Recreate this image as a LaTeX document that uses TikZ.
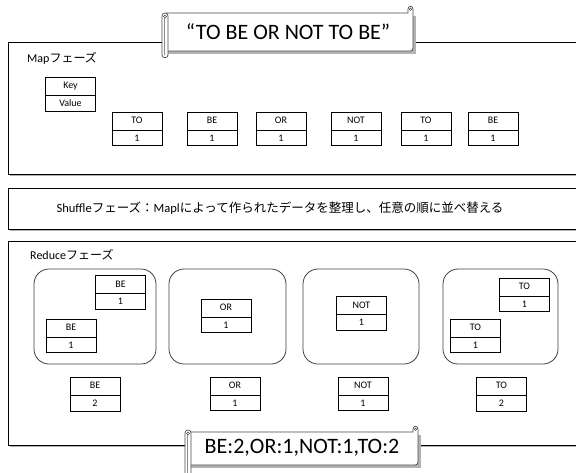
\documentclass[tikz,border=0pt]{standalone}
\usepackage{fontspec}
\setmainfont{Carlito}
\newfontfamily\jp{Noto Sans CJK JP}
\usetikzlibrary{shapes.multipart,shadows}
\tikzset{
  frame/.style={draw=black, line width=0.9pt, fill=white,
    drop shadow={shadow xshift=1.5pt, shadow yshift=-2pt, fill=black!30, opacity=1}},
  kv/.style={draw=black, line width=0.7pt, fill=white, rectangle split, rectangle split parts=2,
    text width=50pt, align=center, font=\fontsize{10}{10}\selectfont,
    inner xsep=0pt, inner ysep=4.2pt, text height=7pt, text depth=2pt},
  grp/.style={draw=black!75, line width=0.8pt, rounded corners=15pt, minimum height=95pt, inner sep=0pt},
  scr/.style={draw=black!70, line width=0.7pt, fill=white},
  shd/.style={fill=black!30},
  lbl/.style={anchor=west, inner sep=0pt, font=\fontsize{12}{12}\selectfont},
  big/.style={inner sep=0pt, font=\fontsize{22}{22}\selectfont}
}
\begin{document}
\begin{tikzpicture}[x=1pt,y=-1pt]
\clip (0,0) rectangle (576,472);
\fill[white] (0,0) rectangle (576,472);

% Map frame
\draw[frame] (8,42) rectangle (600,174);
\node[lbl] (maplbl) at (27,58) {Map{\jp フェーズ}};
\node[kv] (key) at (70.5,94) {Key\nodepart{two}Value};
\node[kv] (m1) at (137,129) {TO\nodepart{two}1};
\node[kv] (m2) at (212,129) {BE\nodepart{two}1};
\node[kv] (m3) at (281,129) {OR\nodepart{two}1};
\node[kv] (m4) at (356,129) {NOT\nodepart{two}1};
\node[kv] (m5) at (426,129) {TO\nodepart{two}1};
\node[kv] (m6) at (493,129) {BE\nodepart{two}1};

% Title scroll
\fill[shd] (166,16) rectangle (416,54);
\draw[scr] (166,13) -- (408,13) -- (408,9) .. controls (408,5.5) and (413,5.5) .. (413,9)
  -- (413,48) .. controls (413,50) and (412,51) .. (410,51) -- (166,51) -- cycle;
\draw[black!70, line width=0.5pt] (410.5,9.3) circle (1.3);
\draw[scr] (162,16) .. controls (162,12) and (168,12) .. (168,16) -- (168,55)
  .. controls (168,58.5) and (162,58.5) .. (162,55) -- cycle;
\draw[black!70, line width=0.5pt] (165,16.5) circle (1.5) (164.6,18) -- (164.6,55);
\node[big] (title) at (288,32) {“TO BE OR NOT TO BE”};

% Shuffle
\draw[frame] (8,188) rectangle (600,229);
\node[inner sep=0pt, font=\fontsize{12.5}{12.5}\selectfont] (shuf) at (280,208)
  {Shuffle{\jp フェーズ：}Mapl{\jp によって作られたデータを整理し、任意の順に並べ替える}};

% Reduce frame
\draw[frame] (8,241) rectangle (600,445);
\node[lbl] (redlbl) at (30,255) {Reduce{\jp フェーズ}};

\node[grp, minimum width=122pt] (g1) at (95,316.5) {};
\node[grp, minimum width=117pt] (g2) at (227.5,316.5) {};
\node[grp, minimum width=116pt] (g3) at (361,316.5) {};
\node[grp, minimum width=115pt] (g4) at (500.5,316.5) {};

\node[kv] (r1a) at (120.5,292.5) {BE\nodepart{two}1};
\node[kv] (r1b) at (71,336) {BE\nodepart{two}1};
\node[kv] (r2) at (226,316) {OR\nodepart{two}1};
\node[kv] (r3) at (361.5,313.5) {NOT\nodepart{two}1};
\node[kv] (r4a) at (524.5,295) {TO\nodepart{two}1};
\node[kv] (r4b) at (475.5,336) {TO\nodepart{two}1};

\node[kv] (s1) at (95,394) {BE\nodepart{two}2};
\node[kv] (s2) at (235,394) {OR\nodepart{two}1};
\node[kv] (s3) at (363,394) {NOT\nodepart{two}1};
\node[kv] (s4) at (501.5,394) {TO\nodepart{two}2};

% Bottom scroll
\fill[shd] (189,435) rectangle (421,468);
\draw[scr] (189,432) -- (413,432) -- (413,429) .. controls (413,425.5) and (418,425.5) .. (418,429)
  -- (418,462) .. controls (418,464) and (417,465) .. (415,465) -- (189,465) -- cycle;
\draw[black!70, line width=0.5pt] (415.5,429.3) circle (1.3);
\draw[scr] (185,433) .. controls (185,429) and (191,429) .. (191,433) -- (191,474)
  .. controls (191,477.5) and (185,477.5) .. (185,474) -- cycle;
\draw[black!70, line width=0.5pt] (188,433.5) circle (1.5) (187.6,435) -- (187.6,474);
\node[big] (result) at (302,448) {BE:2,OR:1,NOT:1,TO:2};
\end{tikzpicture}
\end{document}
